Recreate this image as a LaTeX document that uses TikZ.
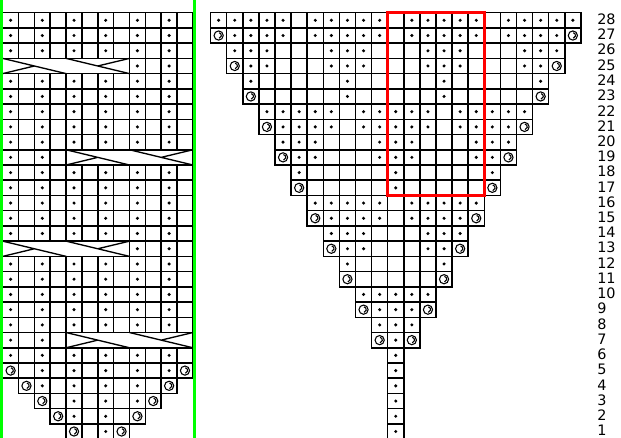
\documentclass[tikz,border=0pt]{standalone}
\usepackage{fontspec}
\setsansfont{DejaVu Sans}
\usepackage{tikz}
\usetikzlibrary{calc}
\definecolor{railgreen}{HTML}{00FF00}
\definecolor{repeatred}{HTML}{FF0000}

\tikzset{
  cell/.style={draw=black,line width=1.15pt,fill=white},
  cablebox/.style={draw=black,line width=1.15pt,fill=white},
  cableline/.style={draw=black,line width=1pt},
  knitdot/.style={fill=black},
  greenrule/.style={draw=railgreen,line width=2pt},
  repeatbox/.style={draw=repeatred,line width=2.2pt},
  rownum/.style={anchor=west,inner sep=0pt,font=\sffamily\fontsize{10.8}{12}\selectfont},
  yo/.pic={\draw[line width=0.8pt] (0,0) circle (4.6);
           \draw[line width=0.8pt] (0.4,-2.8) arc[start angle=-80,end angle=80,radius=2.8];}
}

\begin{document}
\begin{tikzpicture}[x=0.75pt,y=-0.75pt]
\useasboundingbox (0,0) rectangle (621,438);

% left panel: rib columns
\foreach \r in {1,...,28}{
  \pgfmathsetmacro{\yt}{12.7+(28-\r)*15.23}
  \pgfmathtruncatemacro{\a}{\r<6 ? 6-\r : 1}
  \pgfmathtruncatemacro{\b}{13-\a}
  \foreach \c in {\a,...,\b}{
    \pgfmathsetmacro{\xl}{2.7+(\c-1)*15.85}
    \draw[cell] (\xl,\yt) rectangle ++(15.85,15.23);
    \pgfmathtruncatemacro{\s}{(\r<6 && (\c==\a || \c==\b)) ? 2 : mod(\c,2)}
    \ifcase\s
    \or \fill[knitdot] (\xl+7.92,\yt+7.6) circle (1.7);
    \or \pic at (\xl+7.92,\yt+7.6) {yo};
    \fi
  }
}

% left panel: cable crossings
\foreach \r/\c in {25/1,13/1,19/5,7/5}{
  \pgfmathsetmacro{\yt}{12.7+(28-\r)*15.23}
  \pgfmathsetmacro{\yb}{\yt+15.23}
  \pgfmathsetmacro{\ym}{\yt+7.6}
  \pgfmathsetmacro{\xl}{2.7+(\c-1)*15.85}
  \pgfmathsetmacro{\xm}{\xl+4*15.85}
  \pgfmathsetmacro{\xr}{\xl+8*15.85}
  \draw[cablebox] (\xl,\yt) rectangle (\xr,\yb);
  \draw[cableline] (\xl,\yt) -- (\xm,\yb) (\xm,\yt) -- (\xr,\yb)
    (\xl,\yb) -- ({(\xl+\xm)/2},\ym) ({(\xm+\xr)/2},\ym) -- (\xr,\yt);
}

% right panel: lace triangle
\foreach \r in {1,...,28}{
  \pgfmathsetmacro{\yt}{12.7+(28-\r)*15.23}
  \pgfmathtruncatemacro{\e}{2*ceil(\r/2)}
  \pgfmathtruncatemacro{\a}{\r<7 ? 11 : (28-\e)/2}
  \pgfmathtruncatemacro{\b}{22-\a}
  \pgfmathtruncatemacro{\p}{mod(int((28-\e)/2),6)}
  \foreach \c in {\a,...,\b}{
    \pgfmathsetmacro{\xl}{210.6+\c*16.1}
    \draw[cell] (\xl,\yt) rectangle ++(16.1,15.23);
    \pgfmathtruncatemacro{\d}{mod(\c+1,6)}
    \pgfmathtruncatemacro{\f}{\p==0 ? (\d!=0) : (\p==1 ? ((\d==5 || \d<2) ? 0 : 1) : (\p==2 ? (\d==3) : (\p==3 ? (\d!=3) : (\p==4 ? ((\d>1 && \d<5) ? 0 : 1) : (\d==0)))))}
    \pgfmathtruncatemacro{\s}{\r<7 ? 1 : ((mod(\r,2)==1 && (\c==\a || \c==\b)) ? 2 : \f)}
    \ifcase\s
    \or \fill[knitdot] (\xl+8.05,\yt+7.6) circle (1.7);
    \or \pic at (\xl+8.05,\yt+7.6) {yo};
    \fi
  }
}

% pattern repeat
\draw[repeatbox] (387.7,12.7) rectangle (484.3,195.46);

% side rules
\draw[greenrule] (1.3,0) -- (1.3,438);
\draw[greenrule] (194.4,0) -- (194.4,438);

% row numbers
\foreach \r in {1,...,28}{
  \node[rownum] (num\r) at (597,{12.7+(28-\r)*15.23+6.6}) {\r};
}
\end{tikzpicture}
\end{document}
